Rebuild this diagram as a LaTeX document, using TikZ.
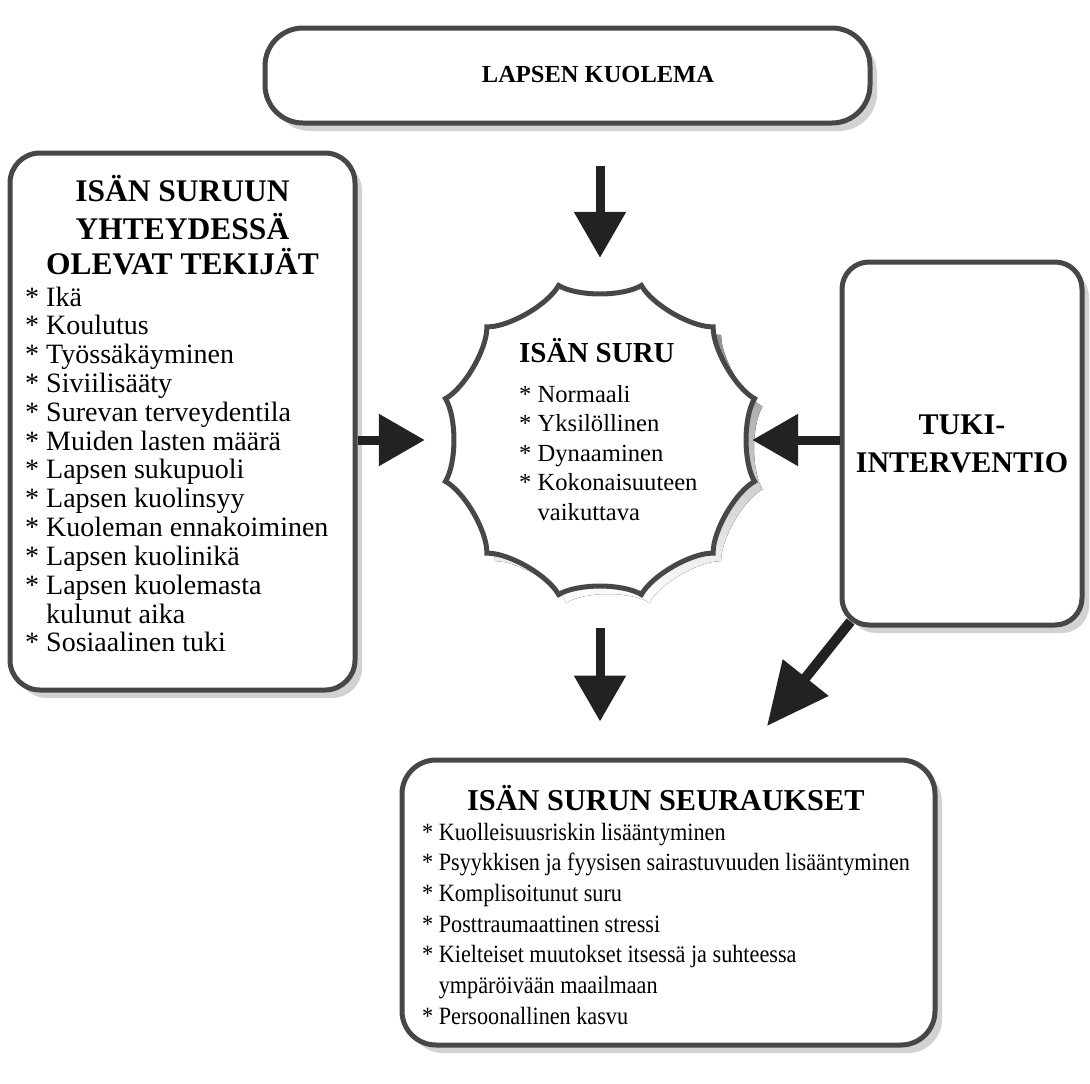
\documentclass[tikz,border=0pt]{standalone}
\usepackage{fontspec}
\setmainfont{Liberation Serif}
\usetikzlibrary{arrows.meta,shadows,calc}
\definecolor{boxline}{HTML}{474747}
\definecolor{shade}{HTML}{D2D2D2}
\definecolor{ink}{HTML}{222222}
\newcommand{\tallbox}[1]{\scalebox{1}[1.12]{#1}}
\begin{document}
\begin{tikzpicture}[x=1pt,y=-1pt,
  roundbox/.style={draw=boxline, line width=5pt, fill=white,
    drop shadow={shadow xshift=7pt, shadow yshift=-8pt, fill=shade, opacity=1}},
  bigarrow/.style={draw=ink, line width=9pt, -{Triangle[length=46pt 0 0, width=50pt 0 0]}},
  lefthead/.style={font=\bfseries\fontsize{31.5}{38}\selectfont, anchor=base, inner sep=0pt},
  leftitem/.style={font=\fontsize{28}{29}\selectfont, anchor=base west, inner sep=0pt},
  staritem/.style={font=\fontsize{24.6}{29}\selectfont, anchor=base west, inner sep=0pt},
  botitem/.style={font=\fontsize{22.2}{26}\selectfont, anchor=base west, inner sep=0pt},
]
\useasboundingbox (0,0) rectangle (1090,1084);
\fill[white] (0,0) rectangle (1090,1084);

% ---- boxes ----
\node[roundbox, rounded corners=38pt, minimum width=605pt, minimum height=95pt] (top) at (567.5,75.5) {};
\node[roundbox, rounded corners=30pt, minimum width=345pt, minimum height=537pt] (lb) at (182.5,421.5) {};
\node[roundbox, rounded corners=27pt, minimum width=240pt, minimum height=363pt,
      align=center, font=\bfseries\fontsize{30}{38}\selectfont] (rb) at (962,443.5) {TUKI-\\INTERVENTIO};
\node[roundbox, rounded corners=34pt, minimum width=533pt, minimum height=285pt] (bot) at (668.5,902.5) {};

% ---- central star ----
\node[circle, minimum size=320pt, inner sep=0pt] (star) at (600,440) {};
\begin{scope}[shift={(600,440)}]
  \fill[shade, shift={(8,8)}] (15:160)
    \foreach \a in {15,45,...,345} { .. controls (\a+6:145) and (\a+24:145) .. (\a+30:160) } -- cycle;
  \draw[boxline, line width=5pt, fill=white, line join=miter] (15:160)
    \foreach \a in {15,45,...,345} { .. controls (\a+6:145) and (\a+24:145) .. (\a+30:160) } -- cycle;
\end{scope}

% ---- connectors ----
\draw[bigarrow, shorten <=40pt, shorten >=22pt] (star.north |- top.south) -- (star.north);
\draw[bigarrow, shorten >=15pt] (lb.east |- star.center) -- (star.west);
\draw[bigarrow, shorten >=-8pt] (rb.west |- star.center) -- (star.east);
\draw[bigarrow, shorten <=28pt, shorten >=36pt] (star.south) -- (star.south |- bot.north);
\coordinate (dtip) at (767,726);
\draw[draw=ink, line width=10pt, -{Triangle[length=62pt 0 0, width=56pt 0 0]}]
  ($(rb.south west)+(11,-6)$) -- (dtip);

% ---- top box text ----
\node[font=\bfseries\fontsize{24.5}{29}\selectfont, inner sep=0pt] (tt) at (598,75) {LAPSEN KUOLEMA};

% ---- left box text ----
\foreach \t/\y [count=\i] in {ISÄN SURUUN/201, YHTEYDESSÄ/239, OLEVAT TEKIJÄT/274}
  \node[lefthead] (lh\i) at (182.5,\y) {\t};
\foreach \t [count=\i] in {* Ikä, * Koulutus, * Työssäkäyminen, * Siviilisääty,
    * Surevan terveydentila, * Muiden lasten määrä, * Lapsen sukupuoli,
    * Lapsen kuolinsyy, * Kuoleman ennakoiminen, * Lapsen kuolinikä,
    * Lapsen kuolemasta, {\hphantom{* }kulunut aika}, * Sosiaalinen tuki}
  \node[leftitem] (li\i) at (25,{306+28.83*(\i-1)}) {\t};

% ---- star text ----
\node[font=\bfseries\fontsize{29}{34}\selectfont, anchor=base west, inner sep=0pt]
  (sh) at (519,362) {ISÄN SURU};
\foreach \t [count=\i] in {* Normaali, * Yksilöllinen, * Dynaaminen,
    * Kokonaisuuteen, {\hphantom{* }vaikuttava}}
  \node[staritem] (si\i) at (519,{402+29.5*(\i-1)}) {\t};

% ---- bottom box text ----
\node[font=\bfseries\fontsize{30.3}{34}\selectfont, anchor=base west, inner sep=0pt]
  (bh) at (467,810) {ISÄN SURUN SEURAUKSET};
\foreach \t [count=\i] in {* Kuolleisuusriskin lisääntyminen,
    * Psyykkisen ja fyysisen sairastuvuuden lisääntyminen,
    * Komplisoitunut suru, * Posttraumaattinen stressi,
    * Kielteiset muutokset itsessä ja suhteessa,
    {\hphantom{* }ympäröivään maailmaan}, * Persoonallinen kasvu}
  \node[botitem] (bi\i) at (422,{840+30.67*(\i-1)}) {\tallbox{\t}};
\end{tikzpicture}
\end{document}
